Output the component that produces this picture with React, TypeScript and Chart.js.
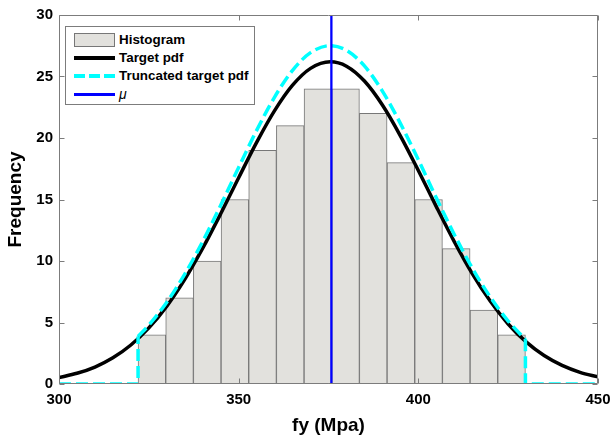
import React, { useEffect, useRef } from "react";
import { Chart, registerables } from "chart.js";

Chart.register(...registerables);

// ---- data ----
const BIN_CENTERS = [325.85, 333.55, 341.25, 348.95, 356.65, 364.35, 372.05, 379.75, 387.45, 395.15, 402.85, 410.55, 418.25, 425.95];
const BIN_COUNTS = [4, 7, 10, 15, 19, 21, 24, 24, 22, 18, 15, 11, 6, 4];

const PDF_X = [300, 305, 310, 315, 320, 325, 330, 335, 340, 345, 350, 355, 360, 365, 370, 375.5, 380, 385, 390, 395, 400, 405, 410, 415, 420, 425, 430, 435, 440, 445, 450];
const PDF_Y = [0.53, 0.87, 1.38, 2.13, 3.17, 4.56, 6.33, 8.51, 11.04, 13.84, 16.77, 19.64, 22.22, 24.29, 25.66, 26.2, 25.84, 24.63, 22.68, 20.18, 17.36, 14.42, 11.58, 8.98, 6.74, 4.88, 3.42, 2.31, 1.51, 0.95, 0.58];

const TRUNC_X = [322, 325, 330, 335, 340, 345, 350, 355, 360, 365, 370, 375.5, 380, 385, 390, 395, 400, 405, 410, 415, 420, 425, 429.8];
const TRUNC_Y = [3.86, 4.79, 6.65, 8.94, 11.59, 14.53, 17.61, 20.62, 23.33, 25.5, 26.94, 27.51, 27.13, 25.86, 23.81, 21.19, 18.23, 15.14, 12.16, 9.43, 7.08, 5.12, 3.63];

const X_MIN = 300;
const X_MAX = 450;
const X_TICKS = [300, 350, 400, 450];
const Y_MIN = 0;
const Y_MAX = 30;
const Y_TICKS = [0, 5, 10, 15, 20, 25, 30];
const MU = 375.8;

const LEGEND_LABELS = ["Histogram", "Target pdf", "Truncated target pdf", "\u03bc"];
const X_TITLE = "fy (Mpa)";
const Y_TITLE = "Frequency";

// ---- styles ----
const FONT = "'Liberation Sans', Arial, Helvetica, sans-serif";
const AXIS_COLOR = "#7c7c7c";
const BAR_FILL = "#e2e1dd";
const BAR_EDGE = "#777777";
const CYAN = "#00ffff";
const BLUE = "#0000ff";
const CYAN_DASH = [12, 5];

const framePlugin = {
  id: "frame",
  afterDatasetsDraw(chart: any) {
    const { ctx, chartArea, scales } = chart;
    const { left, right, top, bottom } = chartArea;
    const xs = scales.x;
    const ys = scales.y;
    const L = Math.round(left) + 0.5;
    const R = Math.round(right) - 0.5;
    const T = Math.round(top) + 0.5;
    const B = Math.round(bottom) - 0.5;
    ctx.save();
    ctx.strokeStyle = AXIS_COLOR;
    ctx.lineWidth = 1;
    ctx.beginPath();
    ctx.rect(L, T, R - L, B - T);
    const tl = 5;
    X_TICKS.forEach((v) => {
      const p = Math.round(xs.getPixelForValue(v)) + 0.5;
      ctx.moveTo(p, B);
      ctx.lineTo(p, B - tl);
      ctx.moveTo(p, T);
      ctx.lineTo(p, T + tl);
    });
    Y_TICKS.forEach((v) => {
      const p = Math.round(ys.getPixelForValue(v)) + 0.5;
      ctx.moveTo(L, p);
      ctx.lineTo(L + tl, p);
      ctx.moveTo(R, p);
      ctx.lineTo(R - tl, p);
    });
    ctx.stroke();
    ctx.restore();
  },
};

function LegendBox() {
  const rowCenters = [12.5, 30.5, 48.8, 67];
  const swatchLeft = 8;
  const swatchW = 41;
  const textLeft = 53;
  const textStyle: React.CSSProperties = {
    position: "absolute",
    left: textLeft,
    height: 18,
    lineHeight: "18px",
    fontFamily: FONT,
    fontWeight: "bold",
    fontSize: 13.4,
    color: "#000",
    whiteSpace: "nowrap",
  };
  return (
    <div
      style={{
        position: "absolute",
        left: 65,
        top: 26,
        width: 190,
        height: 79,
        boxSizing: "border-box",
        border: `1px solid ${AXIS_COLOR}`,
        background: "#fff",
      }}
    >
      <div
        style={{
          position: "absolute",
          left: swatchLeft,
          top: rowCenters[0] - 7,
          width: swatchW,
          height: 14,
          boxSizing: "border-box",
          background: BAR_FILL,
          border: `1px solid ${BAR_EDGE}`,
        }}
      />
      <div style={{ ...textStyle, top: rowCenters[0] - 9 }}>{LEGEND_LABELS[0]}</div>
      <div
        style={{
          position: "absolute",
          left: swatchLeft,
          top: rowCenters[1] - 2,
          width: swatchW,
          height: 4,
          background: "#000",
        }}
      />
      <div style={{ ...textStyle, top: rowCenters[1] - 9 }}>{LEGEND_LABELS[1]}</div>
      <svg
        style={{ position: "absolute", left: swatchLeft, top: rowCenters[2] - 2 }}
        width={swatchW}
        height={4}
      >
        <line x1={0} y1={2} x2={swatchW} y2={2} stroke={CYAN} strokeWidth={4} strokeDasharray="11 4" />
      </svg>
      <div style={{ ...textStyle, top: rowCenters[2] - 9 }}>{LEGEND_LABELS[2]}</div>
      <div
        style={{
          position: "absolute",
          left: swatchLeft,
          top: rowCenters[3] - 1.5,
          width: swatchW,
          height: 3,
          background: BLUE,
        }}
      />
      <div style={{ ...textStyle, top: rowCenters[3] - 9, fontWeight: "normal", fontStyle: "italic", fontSize: 14 }}>
        {LEGEND_LABELS[3]}
      </div>
    </div>
  );
}

export default function App() {
  const ref = useRef<HTMLCanvasElement>(null);

  useEffect(() => {
    if (!ref.current) return;
    const bars = BIN_CENTERS.map((x, i) => ({ x, y: BIN_COUNTS[i] }));
    const pdf = PDF_X.map((x, i) => ({ x, y: PDF_Y[i] }));
    const trunc = TRUNC_X.map((x, i) => ({ x, y: TRUNC_Y[i] }));
    const lo = TRUNC_X[0];
    const hi = TRUNC_X[TRUNC_X.length - 1];
    const leftEdge = [
      { x: X_MIN, y: 0 },
      { x: lo, y: 0 },
      { x: lo, y: TRUNC_Y[0] },
    ];
    const rightEdge = [
      { x: hi, y: TRUNC_Y[TRUNC_Y.length - 1] },
      { x: hi, y: 0 },
      { x: X_MAX, y: 0 },
    ];
    const muLine = [
      { x: MU, y: Y_MIN },
      { x: MU, y: Y_MAX },
    ];

    const cyanCommon = {
      type: "line" as const,
      borderColor: CYAN,
      borderWidth: 3.5,
      borderDash: CYAN_DASH,
      pointRadius: 0,
      fill: false,
      order: 2,
    };

    const chart = new Chart(ref.current, {
      type: "line",
      data: {
        datasets: [
          {
            type: "bar",
            label: LEGEND_LABELS[0],
            data: bars as any,
            backgroundColor: BAR_FILL,
            borderColor: BAR_EDGE,
            borderWidth: 1,
            borderSkipped: false,
            barPercentage: 1,
            categoryPercentage: 1,
            order: 4,
          } as any,
          {
            type: "line",
            label: LEGEND_LABELS[1],
            data: pdf as any,
            borderColor: "#000",
            borderWidth: 3.5,
            pointRadius: 0,
            cubicInterpolationMode: "monotone",
            fill: false,
            order: 3,
          },
          { ...cyanCommon, label: LEGEND_LABELS[2], data: trunc as any, cubicInterpolationMode: "monotone" },
          { ...cyanCommon, label: "", data: leftEdge as any, tension: 0 },
          { ...cyanCommon, label: "", data: rightEdge as any, tension: 0 },
          {
            type: "line",
            label: LEGEND_LABELS[3],
            data: muLine as any,
            borderColor: BLUE,
            borderWidth: 2.3,
            pointRadius: 0,
            tension: 0,
            fill: false,
            order: 1,
          },
        ],
      },
      options: {
        animation: false,
        responsive: true,
        maintainAspectRatio: false,
        events: [],
        layout: { padding: { left: 0, right: 0, top: 14, bottom: 0 } },
        plugins: {
          legend: { display: false },
          tooltip: { enabled: false },
          title: { display: false },
        },
        scales: {
          x: {
            type: "linear",
            min: X_MIN,
            max: X_MAX,
            offset: false,
            afterBuildTicks: (s: any) => {
              s.ticks = X_TICKS.map((v) => ({ value: v }));
            },
            afterFit: (s: any) => {
              s.height = 52;
              s.paddingRight = 12;
            },
            grid: { display: false, drawTicks: false },
            border: { display: false },
            ticks: {
              color: "#000",
              padding: 7,
              maxRotation: 0,
              autoSkip: false,
              font: { family: FONT, size: 15, weight: "bold", lineHeight: 1.2 },
            },
            title: {
              display: true,
              text: X_TITLE,
              color: "#000",
              padding: { top: 0, bottom: 1 },
              font: { family: FONT, size: 19, weight: "bold", lineHeight: 1 },
            },
          },
          y: {
            type: "linear",
            min: Y_MIN,
            max: Y_MAX,
            afterBuildTicks: (s: any) => {
              s.ticks = Y_TICKS.map((v) => ({ value: v }));
            },
            afterFit: (s: any) => {
              s.width = 59;
            },
            grid: { display: false, drawTicks: false },
            border: { display: false },
            ticks: {
              color: "#000",
              padding: 6,
              autoSkip: false,
              font: { family: FONT, size: 15, weight: "bold", lineHeight: 1.2 },
            },
            title: {
              display: true,
              text: Y_TITLE,
              color: "#000",
              padding: { top: 6, bottom: 0 },
              font: { family: FONT, size: 19, weight: "bold", lineHeight: 1 },
            },
          },
        },
      },
      plugins: [framePlugin],
    } as any);

    return () => chart.destroy();
  }, []);

  return (
    <div
      style={{
        position: "fixed",
        left: 0,
        top: 0,
        width: 610,
        height: 436,
        background: "#fff",
        overflow: "hidden",
      }}
    >
      <canvas ref={ref} />
      <LegendBox />
    </div>
  );
}
